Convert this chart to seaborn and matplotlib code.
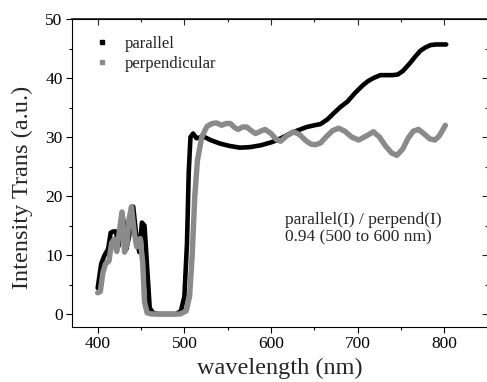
'''
Polarised transmission spectra: parallel vs perpendicular
'''
import pandas as pd
import matplotlib
matplotlib.use('Agg')
import matplotlib.pyplot as plt
from matplotlib.lines import Line2D
from matplotlib.ticker import MultipleLocator
import seaborn as sns

# values
wl_parallel = [400, 404, 408, 412, 415, 418, 421, 424, 429, 433, 436, 441,
               445, 448, 451, 454, 457, 460, 464, 470, 480, 490, 496, 500,
               503, 505, 507, 510, 514, 522, 530, 541, 552, 564, 576, 588,
               600, 607, 614, 622, 632, 641, 650, 657, 665, 672, 680, 688,
               697, 706, 712, 718, 726, 733, 740, 746, 752, 760, 766, 772,
               778, 784, 790, 796, 802]
parallel = [4.4, 8.5, 10.0, 11.0, 13.8, 14.0, 14.0, 11.5, 16.5, 11.0, 13.0,
            18.2, 12.5, 10.5, 15.5, 15.0, 8.0, 1.0, 0.2, 0.0, 0.0, 0.0, 0.5,
            3.0, 12.0, 24.0, 30.0, 30.6, 29.8, 30.1, 29.5, 28.9, 28.5, 28.2,
            28.3, 28.6, 29.1, 29.5, 30.0, 30.6, 31.2, 31.7, 32.0, 32.2, 33.0,
            34.0, 35.1, 36.0, 37.5, 38.8, 39.5, 40.0, 40.5, 40.5, 40.5, 40.6,
            41.2, 42.5, 43.6, 44.6, 45.2, 45.6, 45.7, 45.7, 45.7]

wl_perp = [400, 403, 406, 409, 413, 416, 419, 422, 425, 428, 431, 434, 436,
           439, 442, 445, 449, 452, 454, 457, 462, 480, 495, 502, 506, 509,
           512, 515, 520, 526, 532, 537, 543, 548, 553, 558, 562, 567, 572,
           577, 582, 588, 593, 600, 606, 611, 618, 626, 633, 640, 646, 651,
           657, 664, 671, 678, 685, 693, 701, 710, 718, 725, 732, 739, 745,
           752, 758, 764, 770, 776, 783, 789, 794, 798, 801]
perp = [3.6, 3.8, 7.0, 8.5, 9.0, 12.0, 12.7, 10.6, 14.0, 17.3, 10.5, 12.0,
        16.0, 18.2, 14.0, 11.4, 12.8, 8.6, 2.0, 0.2, 0.0, 0.0, 0.0, 0.5, 3.0,
        10.0, 20.0, 26.0, 30.0, 31.8, 32.3, 32.4, 32.0, 32.3, 32.3, 31.6,
        31.3, 31.7, 31.7, 31.1, 30.6, 31.0, 31.3, 30.6, 29.6, 29.3, 30.2,
        30.9, 30.4, 29.4, 28.8, 28.7, 29.0, 30.1, 31.1, 31.5, 31.0, 30.0,
        29.5, 30.2, 30.9, 30.0, 28.5, 27.3, 26.9, 28.0, 29.8, 31.0, 31.3,
        30.6, 29.7, 29.5, 30.2, 31.2, 32.0]

labels = ['parallel', 'perpendicular']
colors = ['#000000', '#8a8a8a']
note = 'parallel(I) / perpend(I)\n0.94 (500 to 600 nm)'


def main():
    sns.set_theme(style='ticks')
    plt.rcParams['font.family'] = ['Liberation Serif', 'DejaVu Serif']

    df_par = pd.DataFrame({'wavelength': wl_parallel, 'value': parallel})
    df_perp = pd.DataFrame({'wavelength': wl_perp, 'value': perp})

    fig = plt.figure(figsize=(4.87, 3.82), dpi=100)
    ax = fig.add_axes([0.1472, 0.144, 0.8545, 0.806])

    sns.lineplot(data=df_par, x='wavelength', y='value', ax=ax,
                 color=colors[0], linewidth=3.3, sort=False)
    sns.lineplot(data=df_perp, x='wavelength', y='value', ax=ax,
                 color=colors[1], linewidth=3.9, sort=False)

    ax.set_xlim(370, 850)
    ax.set_ylim(-2.2, 50)
    ax.xaxis.set_major_locator(MultipleLocator(100))
    ax.xaxis.set_minor_locator(MultipleLocator(50))
    ax.yaxis.set_major_locator(MultipleLocator(10))
    ax.yaxis.set_minor_locator(MultipleLocator(5))
    ax.set_xticks([400, 500, 600, 700, 800])
    ax.tick_params(which='major', direction='out', length=4.5, width=0.8,
                   labelsize=12.5, color='black', labelcolor='black', pad=2)
    ax.tick_params(which='minor', direction='out', length=2.4, width=0.8,
                   color='black')
    for side in ['left', 'bottom', 'top', 'right']:
        ax.spines[side].set_linewidth(0.8)
        ax.spines[side].set_color('black')

    # inward ticks on the top and right edges
    top = ax.secondary_xaxis('top')
    top.xaxis.set_major_locator(MultipleLocator(100))
    top.xaxis.set_minor_locator(MultipleLocator(50))
    top.tick_params(which='major', direction='in', length=4.5, width=0.8,
                    labeltop=False)
    top.tick_params(which='minor', direction='in', length=2.4, width=0.8)
    right = ax.secondary_yaxis('right')
    right.yaxis.set_major_locator(MultipleLocator(10))
    right.yaxis.set_minor_locator(MultipleLocator(5))
    right.tick_params(which='major', direction='in', length=4.5, width=0.8,
                      labelright=False)
    right.tick_params(which='minor', direction='in', length=2.4, width=0.8)

    ax.set_xlabel('wavelength (nm)', fontsize=17.5, labelpad=4)
    ax.set_ylabel('Intensity Trans (a.u.)', fontsize=17.5)
    ax.yaxis.set_label_coords(-0.092, 0.453)

    handles = [Line2D([], [], linestyle='none', marker='s', markersize=3.2,
                      color=c) for c in colors]
    ax.legend(handles, labels, loc='upper left', bbox_to_anchor=(0.056, 0.945),
              frameon=False, borderpad=0, borderaxespad=0, handlelength=0.8,
              handletextpad=1.0, labelspacing=0.25, fontsize=12)

    ax.text(0.513, 0.372, note, transform=ax.transAxes, ha='left', va='top',
            fontsize=12.5, linespacing=1.1)

    fig.savefig('out.png', dpi=100)


if __name__ == '__main__':
    main()
